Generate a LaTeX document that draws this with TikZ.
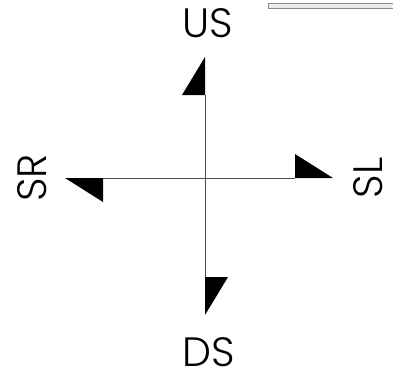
\documentclass[tikz,border=0pt]{standalone}
\usepackage{fontspec}
\setmainfont{Poppins}[UprightFont = * Light]
\begin{document}
\begin{tikzpicture}[x=1pt,y=-1pt,
  lbl/.style={font=\fontsize{41}{41}\selectfont, inner sep=0pt},
  axis/.style={line width=0.8pt, black!70},
  half/.style={fill=black, draw=none}]
\useasboundingbox (0,0) rectangle (393,373);
% axis ends
\coordinate (top) at (205,95);
\coordinate (bot) at (205,277);
\coordinate (left) at (103,178);
\coordinate (right) at (295,178);
\draw[axis] (top) -- (bot);
\draw[axis] (left) -- (right);
% half arrow heads
\fill[half] (top) -- (205,57) -- (182,95) -- cycle;
\fill[half] (bot) -- (205,315) -- (228,277) -- cycle;
\fill[half] (left) -- (65,178) -- (103,202) -- cycle;
\fill[half] (right) -- (333,178) -- (295,154) -- cycle;
% labels
\node[lbl] (us) at (208,23) {US};
\node[lbl] (ds) at (209,352) {DS};
\node[lbl, rotate=90] (sr) at (32,178) {SR};
\node[lbl, rotate=90] (sl) at (368,178) {SL};
% top right bar
\draw[draw=black!45, fill=black!8, line width=0.7pt] (268,3.5) rectangle (395,8);
\end{tikzpicture}
\end{document}
